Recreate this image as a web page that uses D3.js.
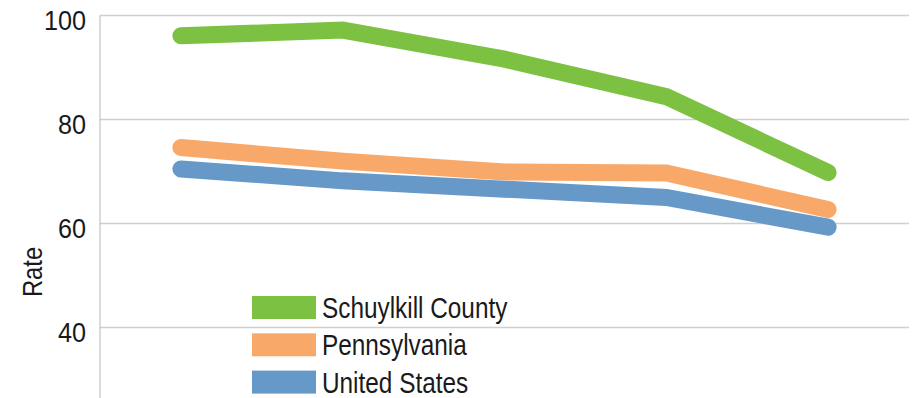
<!DOCTYPE html>
<html>
<head>
<meta charset="utf-8">
<script src="https://cdn.jsdelivr.net/npm/d3@7"></script>
<style>
  html, body { margin: 0; padding: 0; background: #fff; }
  svg { display: block; overflow: hidden; }
  text { font-family: "Liberation Sans", Arial, sans-serif; fill: #1a1a1a; }
</style>
</head>
<body>
<svg id="chart" width="915" height="398"></svg>
<script>
// Periods along the x axis (labels sit below the visible area)
const periods = ["P1", "P2", "P3", "P4", "P5"];
const yTicks = [40, 60, 80, 100];

const seriesNames = ["Schuylkill County", "Pennsylvania", "United States"];
const schuylkill = [96.1, 97.2, 91.6, 84.4, 69.8];
const pennsylvania = [74.6, 72.0, 69.9, 69.7, 62.7];
const unitedStates = [70.5, 68.2, 66.6, 65.0, 59.3];
const seriesColors = ["#7dc143", "#f8a96a", "#6699c8"];

const series = [
  { name: seriesNames[0], values: schuylkill, color: seriesColors[0] },
  { name: seriesNames[1], values: pennsylvania, color: seriesColors[1] },
  { name: seriesNames[2], values: unitedStates, color: seriesColors[2] }
];

const svg = d3.select("#chart");
const left = 100, right = 909;

const x = d3.scalePoint().domain(periods).range([left, right]).padding(0.5);
const y = d3.scaleLinear().domain([20, 100]).range([431.5, 15.5]);

// horizontal gridlines
svg.append("g")
  .selectAll("line")
  .data(yTicks)
  .join("line")
  .attr("x1", left).attr("x2", right)
  .attr("y1", d => y(d)).attr("y2", d => y(d))
  .attr("stroke", "#cfcfcf").attr("stroke-width", 1.3);

// vertical axis line
svg.append("line")
  .attr("x1", left).attr("x2", left)
  .attr("y1", y(100)).attr("y2", 398)
  .attr("stroke", "#c8c8c8").attr("stroke-width", 1.3);

// tick labels (condensed horizontally)
svg.append("g")
  .selectAll("g")
  .data(yTicks)
  .join("g")
  .attr("transform", d => `translate(86,${y(d) + 14.5}) scale(0.9,1)`)
  .append("text")
  .attr("text-anchor", "end")
  .attr("font-size", 28)
  .text(d => d);

// axis title
svg.append("g")
  .attr("transform", "translate(42,272) rotate(-90) scale(0.85,1)")
  .append("text")
  .attr("text-anchor", "middle")
  .attr("font-size", 28)
  .text("Rate");

// series lines
const line = d3.line()
  .x((d, i) => x(periods[i]))
  .y(d => y(d));

svg.append("g")
  .selectAll("path")
  .data(series)
  .join("path")
  .attr("d", d => line(d.values))
  .attr("fill", "none")
  .attr("stroke", d => d.color)
  .attr("stroke-width", 17)
  .attr("stroke-linecap", "round")
  .attr("stroke-linejoin", "miter");

// legend
const legend = svg.append("g")
  .selectAll("g")
  .data(series)
  .join("g")
  .attr("transform", (d, i) => `translate(252,${296 + i * 37.3})`);

legend.append("rect")
  .attr("width", 64).attr("height", 23)
  .attr("fill", d => d.color);

legend.append("g")
  .attr("transform", "translate(70,22) scale(0.84,1)")
  .append("text")
  .attr("font-size", 29)
  .text(d => d.name);
</script>
</body>
</html>
